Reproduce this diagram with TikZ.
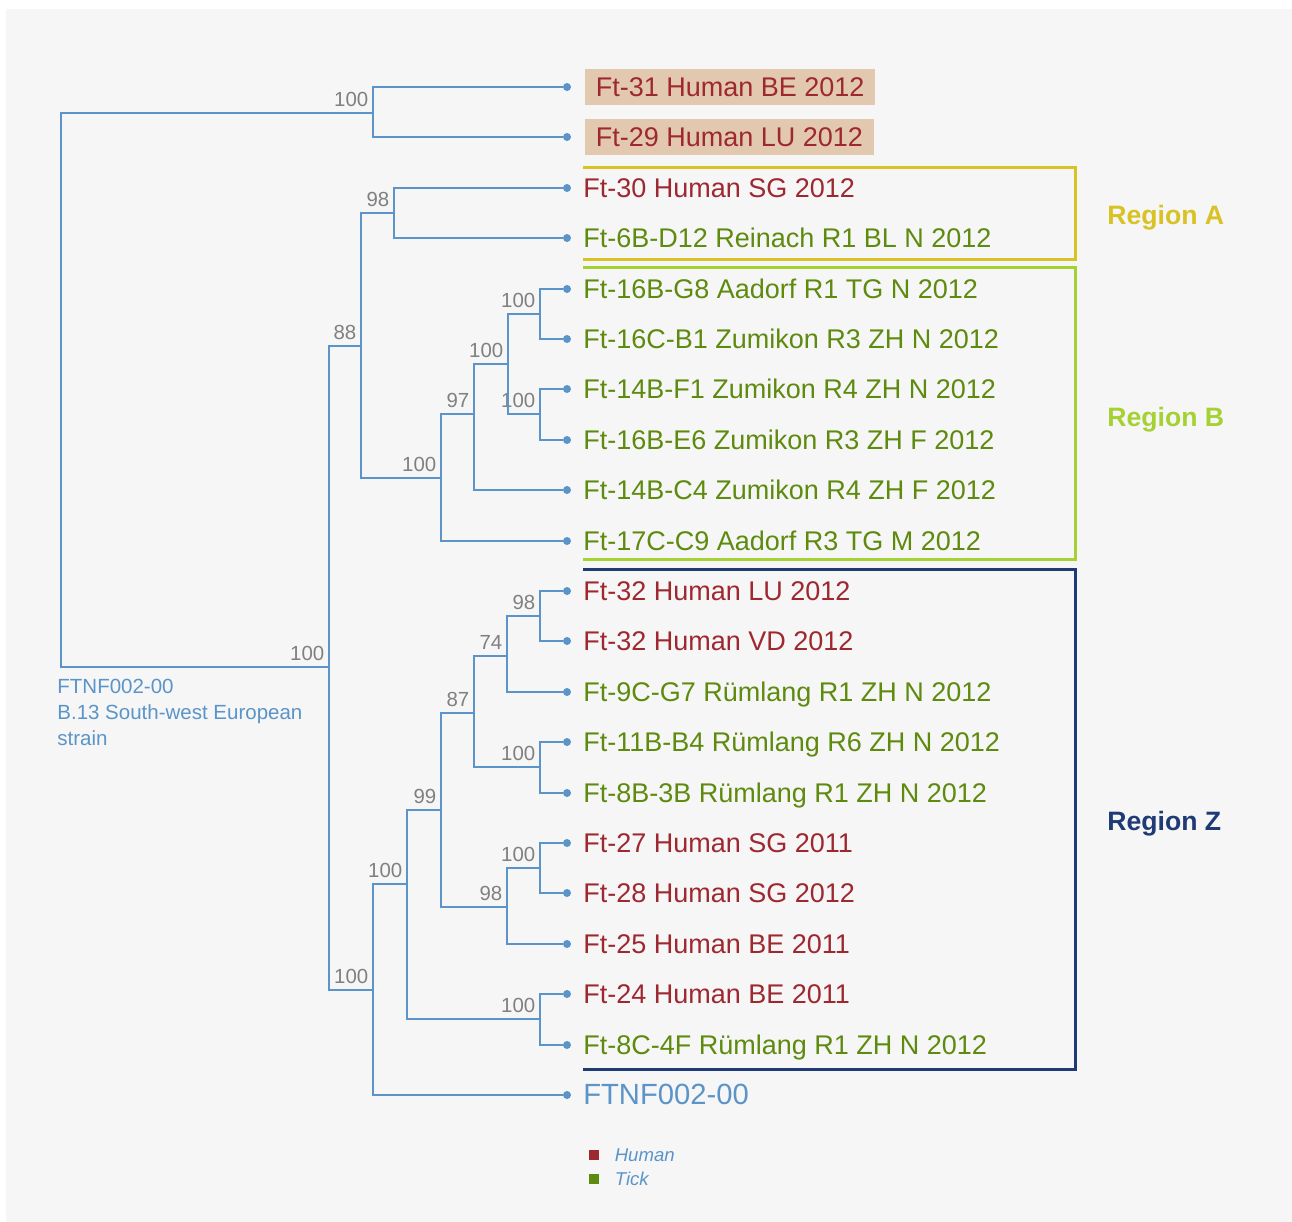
\documentclass[tikz,border=0pt]{standalone}
\usepackage{fontspec}
\setmainfont{Liberation Sans}
\usetikzlibrary{positioning}
\definecolor{treeblue}{RGB}{91,148,200}
\definecolor{bootgray}{RGB}{128,128,128}
\definecolor{humanred}{RGB}{158,40,48}
\definecolor{tickgreen}{RGB}{94,138,14}
\definecolor{regA}{RGB}{217,194,35}
\definecolor{regB}{RGB}{165,209,50}
\definecolor{regZ}{RGB}{31,58,117}
\definecolor{tagfill}{RGB}{226,200,174}
\definecolor{paper}{RGB}{246,246,246}
\tikzstyle{branch} = [draw=treeblue, line width=1pt]
\tikzstyle{tip} = [circle, fill=treeblue, inner sep=0pt, minimum size=4pt]
\tikzstyle{boot} = [text=bootgray, font=\fontsize{10.2}{12}\selectfont, inner sep=0pt, xshift=-2pt, yshift=3pt]
\tikzset{fork/.style={inner sep=0pt, minimum size=0pt, label={[boot]above left:#1}}}
\tikzstyle{leaf} = [inner sep=0pt, text height=9.7pt, text depth=0pt, font=\fontsize{13.5}{16}\selectfont]
\tikzstyle{human} = [leaf, text=humanred]
\tikzstyle{tick} = [leaf, text=tickgreen]
\tikzstyle{tagged} = [fill=tagfill, inner xsep=5.5pt, inner ysep=4.15pt]
\tikzstyle{regbox} = [line width=1.5pt]
\tikzstyle{regtext} = [anchor=west, inner sep=0pt, text height=9.7pt, text depth=0pt, font=\fontsize{13.3}{16}\selectfont\bfseries]
\tikzstyle{note} = [text=treeblue, anchor=north west, inner sep=0pt, align=left, font=\fontsize{10.25}{13}\selectfont]
\tikzstyle{key} = [minimum size=5pt, inner sep=0pt]

\begin{document}
\begin{tikzpicture}[x=0.5pt, y=-0.5pt]

\useasboundingbox (0,0) rectangle (1292,1222);
\fill [paper] (6,9) rectangle (1292,1222);

% Internal forks
\node (root) [fork=] at (61,390) {};
\node (nA) [fork=100] at (373,113) {};
\node (nB) [fork=100] at (329,667) {};
\node (nC) [fork=88] at (361,346) {};
\node (nD) [fork=98] at (394,213) {};
\node (nE) [fork=100] at (441,478) {};
\node (nF) [fork=97] at (474,414) {};
\node (nG) [fork=100] at (508,364) {};
\node (nH) [fork=100] at (540,314) {};
\node (nI) [fork=100] at (540,414) {};
\node (nJ) [fork=100] at (373,990) {};
\node (nK) [fork=100] at (407,884) {};
\node (nL) [fork=99] at (441,810) {};
\node (nM) [fork=87] at (474,713) {};
\node (nN) [fork=74] at (507,656) {};
\node (nO) [fork=98] at (540,616) {};
\node (nP) [fork=100] at (540,767) {};
\node (nQ) [fork=98] at (507,907) {};
\node (nR) [fork=100] at (540,868) {};
\node (nS) [fork=100] at (540,1019) {};

% Tips
\foreach \n/\y in {l31/87, l29/137, l30/188, l6b/238, l16g/289, l16c/339, l14f/389, l16e/440, l14c/490, l17c/541,
                   l32l/591, l32v/641, l9c/692, l11b/742, l8b/793, l27/843, l28/893, l25/944, l24/994, l8c/1045, lref/1095}
  \node (\n) [tip] at (567,\y) {};

% Branches
\foreach \p/\c in {root/nA, root/nB, nA/l31, nA/l29, nB/nC, nB/nJ, nC/nD, nC/nE, nD/l30, nD/l6b,
                   nE/nF, nE/l17c, nF/nG, nF/l14c, nG/nH, nG/nI, nH/l16g, nH/l16c, nI/l14f, nI/l16e,
                   nJ/nK, nJ/lref, nK/nL, nK/nS, nL/nM, nL/nQ, nM/nN, nM/nP, nN/nO, nN/l9c,
                   nO/l32l, nO/l32v, nP/l11b, nP/l8b, nQ/nR, nQ/l25, nR/l27, nR/l28, nS/l24, nS/l8c}
  \draw [branch] (\p) |- (\c);

% Strain names
\node (t31) [human, tagged, right=6.5pt of l31] {Ft-31 Human BE 2012};
\node (t29) [human, tagged, right=6.5pt of l29] {Ft-29 Human LU 2012};
\node (t30) [human, right=5.75pt of l30] {Ft-30 Human SG 2012};
\node (t6b) [tick, right=5.75pt of l6b] {Ft-6B-D12 Reinach R1 BL N 2012};
\node (t16g) [tick, right=5.75pt of l16g] {Ft-16B-G8 Aadorf R1 TG N 2012};
\node (t16c) [tick, right=5.75pt of l16c] {Ft-16C-B1 Zumikon R3 ZH N 2012};
\node (t14f) [tick, right=5.75pt of l14f] {Ft-14B-F1 Zumikon R4 ZH N 2012};
\node (t16e) [tick, right=5.75pt of l16e] {Ft-16B-E6 Zumikon R3 ZH F 2012};
\node (t14c) [tick, right=5.75pt of l14c] {Ft-14B-C4 Zumikon R4 ZH F 2012};
\node (t17c) [tick, right=5.75pt of l17c] {Ft-17C-C9 Aadorf R3 TG M 2012};
\node (t32l) [human, right=5.75pt of l32l] {Ft-32 Human LU 2012};
\node (t32v) [human, right=5.75pt of l32v] {Ft-32 Human VD 2012};
\node (t9c) [tick, right=5.75pt of l9c] {Ft-9C-G7 Rümlang R1 ZH N 2012};
\node (t11b) [tick, right=5.75pt of l11b] {Ft-11B-B4 Rümlang R6 ZH N 2012};
\node (t8b) [tick, right=5.75pt of l8b] {Ft-8B-3B Rümlang R1 ZH N 2012};
\node (t27) [human, right=5.75pt of l27] {Ft-27 Human SG 2011};
\node (t28) [human, right=5.75pt of l28] {Ft-28 Human SG 2012};
\node (t25) [human, right=5.75pt of l25] {Ft-25 Human BE 2011};
\node (t24) [human, right=5.75pt of l24] {Ft-24 Human BE 2011};
\node (t8c) [tick, right=5.75pt of l8c] {Ft-8C-4F Rümlang R1 ZH N 2012};
\node (tref) [leaf, text=treeblue, font=\fontsize{14.6}{17}\selectfont, right=5.75pt of lref] {FTNF002-00};

% Root strain
\node (rootnote) [note] at (57,679) {FTNF002-00\\B.13 South-west European\\strain};

% Regions
\draw [regbox, draw=regA] (583,167) -| (1075,259) -- (583,259);
\draw [regbox, draw=regB] (583,267) -| (1075,559) -- (583,559);
\draw [regbox, draw=regZ] (583,569) -| (1075,1069) -- (583,1069);
\node (rA) [regtext, text=regA] at (1107,215) {Region A};
\node (rB) [regtext, text=regB] at (1107,417) {Region B};
\node (rZ) [regtext, text=regZ] at (1107,821) {Region Z};

% Legend
\node (kH) [key, fill=humanred] at (594,1155) {};
\node (kT) [key, fill=tickgreen] at (594,1179) {};
\node (kHt) [right=7.5pt of kH, inner sep=0pt, text=treeblue, font=\fontsize{9.3}{11}\selectfont\itshape] {Human};
\node (kTt) [right=7.5pt of kT, inner sep=0pt, text=treeblue, font=\fontsize{9.3}{11}\selectfont\itshape] {Tick};

\end{tikzpicture}
\end{document}
